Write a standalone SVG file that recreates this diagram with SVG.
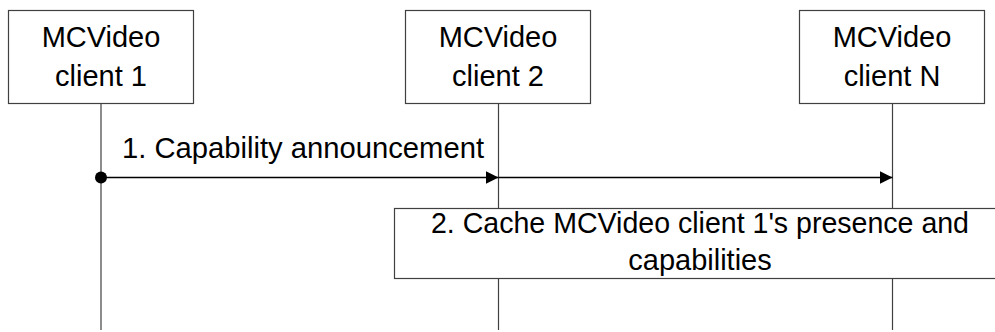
<svg xmlns="http://www.w3.org/2000/svg" width="995" height="332" viewBox="0 0 995 332">
<style>
.box{fill:#fff;stroke:#404040;stroke-width:1.2}
.life{stroke:#404040;stroke-width:1.2;fill:none}
.msg{stroke:#000;stroke-width:1.3;fill:none}
text{font-family:"Liberation Sans",Arial,sans-serif;font-size:29px;fill:#000;text-anchor:middle}
</style>
<defs>
<marker id="ah" viewBox="0 0 13 13" refX="13" refY="6.5" markerWidth="13" markerHeight="13" markerUnits="userSpaceOnUse" orient="auto">
<path d="M0,0 L13,6.5 L0,13 Z" fill="#000"/>
</marker>
</defs>
<g id="lifelines">
<line class="life" x1="101" y1="103.5" x2="101" y2="330"/>
<line class="life" x1="498.5" y1="103.5" x2="498.5" y2="330"/>
<line class="life" x1="892.5" y1="103.5" x2="892.5" y2="330"/>
</g>
<g id="client1">
<rect class="box" x="8.5" y="10.5" width="185" height="93"/>
<text x="101" y="47">MCVideo</text>
<text x="101" y="86">client 1</text>
</g>
<g id="client2">
<rect class="box" x="405.5" y="10.5" width="185" height="93"/>
<text x="498" y="47">MCVideo</text>
<text x="498" y="86">client 2</text>
</g>
<g id="clientN">
<rect class="box" x="799.5" y="10.5" width="185" height="93"/>
<text x="892" y="47">MCVideo</text>
<text x="892" y="86">client N</text>
</g>
<g id="connectors">
<line class="msg" x1="101" y1="177.5" x2="498.5" y2="177.5" marker-end="url(#ah)"/>
<line class="msg" x1="498.5" y1="177.5" x2="892.5" y2="177.5" marker-end="url(#ah)"/>
<circle cx="101" cy="177.5" r="6" fill="#000"/>
<text x="303" y="158" textLength="362" lengthAdjust="spacingAndGlyphs">1. Capability announcement</text>
</g>
<g id="step2">
<rect class="box" x="394.5" y="208.5" width="620" height="70"/>
<text x="700" y="233" textLength="538" lengthAdjust="spacingAndGlyphs">2. Cache MCVideo client 1's presence and</text>
<text x="700" y="270">capabilities</text>
</g>
</svg>
